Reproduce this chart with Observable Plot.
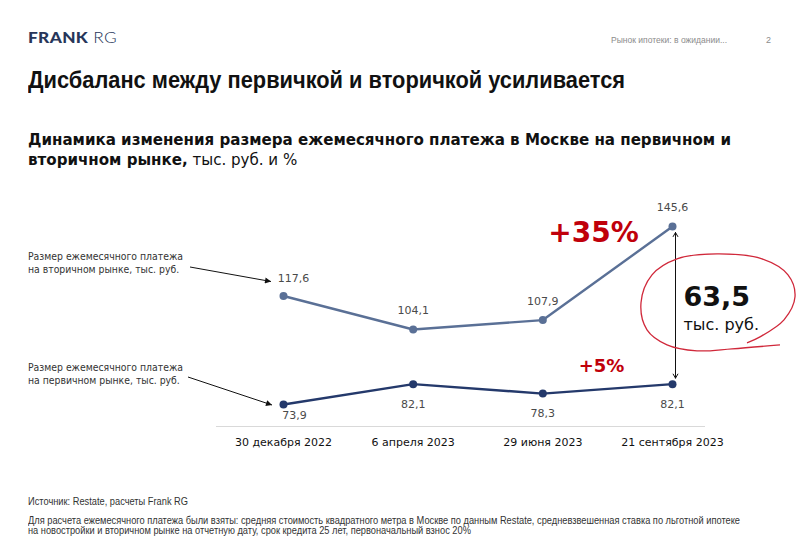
<!DOCTYPE html>
<html><head><meta charset="utf-8">
<script src="https://cdn.jsdelivr.net/npm/d3@7"></script>
<script src="https://cdn.jsdelivr.net/npm/@observablehq/plot@0.6"></script>
<style>
html,body{margin:0;padding:0;background:#fff;}
body{width:800px;height:547px;overflow:hidden;position:relative;font-family:"DejaVu Sans",sans-serif;}
.abs{position:absolute;white-space:nowrap;line-height:1;transform-origin:0 0;}
</style></head><body>
<div id="chart" style="position:absolute;left:0;top:0"></div>

<div class="abs" id="logo" style="left:28px;top:30px;font-family:Lato,'Open Sans',sans-serif;font-size:15px;color:#27365a;letter-spacing:0.3px"><b style="font-weight:900">FRANK</b><span style="font-weight:300"> RG</span></div>
<div class="abs" id="section" style="left:611px;top:36px;font-family:'Liberation Sans',sans-serif;font-size:9px;color:#8c8c8c">Рынок ипотеки: в ожидании...</div>
<div class="abs" style="left:766px;top:36px;font-family:'Liberation Sans',sans-serif;font-size:9px;color:#8c8c8c">2</div>

<div class="abs" id="title" style="left:28px;top:69px;font-family:'Liberation Sans Narrow','Liberation Sans',sans-serif;font-weight:bold;font-size:23px;color:#111">Дисбаланс между первичкой и вторичкой усиливается</div>

<div class="abs" id="sub1" style="left:28px;top:132px;font-family:'DejaVu Sans',sans-serif;font-weight:bold;font-size:16px;color:#111">Динамика изменения размера ежемесячного платежа в Москве на первичном и</div>
<div class="abs" id="sub2" style="left:28px;top:152px;font-family:'DejaVu Sans',sans-serif;font-size:16px;color:#111"><b>вторичном рынке,</b> тыс. руб. и %</div>

<div class="abs" id="lg1a" style="left:28px;top:251px;font-size:10.5px;color:#333">Размер ежемесячного платежа</div>
<div class="abs" id="lg1b" style="left:28px;top:264px;font-size:10.5px;color:#333">на вторичном рынке, тыс. руб.</div>
<div class="abs" id="lg2a" style="left:28px;top:362px;font-size:10.5px;color:#333">Размер ежемесячного платежа</div>
<div class="abs" id="lg2b" style="left:28px;top:375px;font-size:10.5px;color:#333">на первичном рынке, тыс. руб.</div>

<div class="abs" id="src" style="left:28px;top:497px;font-family:'Liberation Sans Narrow','Liberation Sans',sans-serif;font-size:10px;color:#333">Источник: Restate, расчеты Frank RG</div>
<div class="abs" id="note1" style="left:28px;top:516px;font-family:'Liberation Sans Narrow','Liberation Sans',sans-serif;font-size:10px;color:#333">Для расчета ежемесячного платежа были взяты: средняя стоимость квадратного метра в Москве по данным Restate, средневзвешенная ставка по льготной ипотеке</div>
<div class="abs" id="note2" style="left:28px;top:526px;font-family:'Liberation Sans Narrow','Liberation Sans',sans-serif;font-size:10px;color:#333">на новостройки и вторичном рынке на отчетную дату, срок кредита 25 лет, первоначальный взнос 20%</div>

<script>
// ---- data ----
const dates = ["30 декабря 2022", "6 апреля 2023", "29 июня 2023", "21 сентября 2023"];
const secondary = [117.6, 104.1, 107.9, 145.6]; // вторичный рынок, тыс. руб.
const primary = [73.9, 82.1, 78.3, 82.1];       // первичный рынок, тыс. руб.

// ---- helpers ----
function fit(id, w) {
  const el = document.getElementById(id);
  const r = el.getBoundingClientRect().width;
  const k = w / r;
  el.style.transform = `scaleX(${k})`;
  return k;
}
function scaleBy(id, k) { document.getElementById(id).style.transform = `scaleX(${k})`; }

fit("title", 597);
const ks = fit("sub1", 703); scaleBy("sub2", ks);
const kl = fit("lg1a", 155); scaleBy("lg1b", kl); scaleBy("lg2a", kl); scaleBy("lg2b", kl);
fit("logo", 89);
fit("section", 116);
fit("src", 160);
const kn = fit("note1", 712); scaleBy("note2", kn);

const fmt = v => v.toFixed(1).replace(".", ",");
const sec = dates.map((d, i) => ({i, v: secondary[i]}));
const pri = dates.map((d, i) => ({i, v: primary[i]}));
const last = dates.length - 1;
const gap = secondary[last] - primary[last];
const mid = (secondary[last] + primary[last]) / 2;
const pctSec = Math.round((secondary[last] / secondary[last - 1] - 1) * 100);
const pctPri = Math.round((primary[last] / primary[last - 1] - 1) * 100);
const gapArrows = [{i: last, from: mid, to: secondary[last]}, {i: last, from: mid, to: primary[last]}];

const cSec = "#5a7096", cPri = "#24396b", red = "#c0000b";

const plot = Plot.plot({
  width: 800, height: 547,
  marginLeft: 216, marginRight: 95, marginTop: 180, marginBottom: 121,
  x: {type: "linear", domain: [0, last], range: [283, 672], ticks: d3.range(dates.length),
      tickFormat: i => dates[i], label: null, tickSize: 0, tickPadding: 12},
  y: {domain: [d3.min(primary), d3.max(secondary)], range: [404, 226], axis: null},
  style: {fontFamily: "DejaVu Sans, sans-serif", fontSize: "11px", color: "#111", background: "transparent", overflow: "visible"},
  marks: [
    Plot.line(sec, {x: "i", y: "v", stroke: cSec, strokeWidth: 2.4}),
    Plot.dot(sec, {x: "i", y: "v", fill: cSec, r: 4}),
    Plot.line(pri, {x: "i", y: "v", stroke: cPri, strokeWidth: 2.4}),
    Plot.dot(pri, {x: "i", y: "v", fill: cPri, r: 4}),
    Plot.text(sec, {filter: d => d.i > 0, x: "i", y: "v", text: d => fmt(d.v), dy: -19, fill: "#4a4a4a", fontSize: 11}),
    Plot.text(sec, {filter: d => d.i === 0, x: "i", y: "v", text: d => fmt(d.v), dx: 10, dy: -18, fill: "#4a4a4a", fontSize: 11}),
    Plot.text(pri, {filter: d => d.i > 0, x: "i", y: "v", text: d => fmt(d.v), dy: 20, fill: "#4a4a4a", fontSize: 11}),
    Plot.text(pri, {filter: d => d.i === 0, x: "i", y: "v", text: d => fmt(d.v), dx: 11, dy: 11, fill: "#4a4a4a", fontSize: 11}),
    Plot.arrow(gapArrows, {x1: "i", x2: "i", y1: "from", y2: "to", dx: 3, insetEnd: 6, headLength: 7, stroke: "#111", strokeWidth: 1}),
    Plot.text([mid], {x: () => last, y: d => d, text: () => fmt(gap), textAnchor: "start", dx: 11, dy: -8, fontSize: 27, fontWeight: "bold", fill: "#111"}),
    Plot.text([mid], {x: () => last, y: d => d, text: () => "тыс. руб.", textAnchor: "start", dx: 11, dy: 20, fontSize: 16, fill: "#111"}),
    Plot.text([secondary[last]], {x: () => last, y: d => d, text: () => `+${pctSec}%`, dx: -79, dy: 7, fontSize: 28, fontWeight: "bold", fill: red}),
    Plot.text([primary[last]], {x: () => last, y: d => d, text: () => `+${pctPri}%`, dx: -71, dy: -18, fontSize: 18, fontWeight: "bold", fill: red})
  ]
});
document.getElementById("chart").appendChild(plot);

// ---- annotations bound to scales ----
const svg = d3.select(plot);
const X = plot.scale("x"), Y = plot.scale("y");
// axis baseline at frame bottom
svg.append("line").attr("x1", 216).attr("x2", 800 - 95).attr("y1", 547 - 121 + 0.5).attr("y2", 547 - 121 + 0.5)
  .attr("stroke", "#d9d9d9").attr("stroke-width", 1);

const defs = svg.append("defs");
defs.append("marker").attr("id", "ah").attr("viewBox", "0 0 10 10").attr("refX", 10).attr("refY", 5)
  .attr("markerWidth", 9).attr("markerHeight", 6).attr("orient", "auto")
  .append("path").attr("d", "M0,0 L10,5 L0,10 z").attr("fill", "#111");

const p0s = [X.apply(0), Y.apply(secondary[0])];
const p0p = [X.apply(0), Y.apply(primary[0])];
svg.append("line").attr("x1", 190).attr("y1", 267).attr("x2", p0s[0] - 12).attr("y2", p0s[1] - 14)
  .attr("stroke", "#111").attr("stroke-width", 1).attr("marker-end", "url(#ah)");
svg.append("line").attr("x1", 188).attr("y1", 377).attr("x2", p0p[0] - 11).attr("y2", p0p[1] + 1)
  .attr("stroke", "#111").attr("stroke-width", 1).attr("marker-end", "url(#ah)");

// hand-drawn red loop around the gap value
const ax = X.apply(last), ay = Y.apply(mid);
const loop = [[108, 40], [60, 44], [25, 46], [-5, 40], [-25, 25], [-31, -2], [-20, -30], [5, -46], [45, -51], [90, -46], [116, -30], [123, -8], [112, 15], [88, 32], [75, 38]];
svg.append("path")
  .attr("d", d3.line().curve(d3.curveCatmullRom)(loop.map(([dx, dy]) => [ax + dx, ay + dy])))
  .attr("fill", "none").attr("stroke", "#d0283a").attr("stroke-width", 1.3);
</script>
</body></html>
